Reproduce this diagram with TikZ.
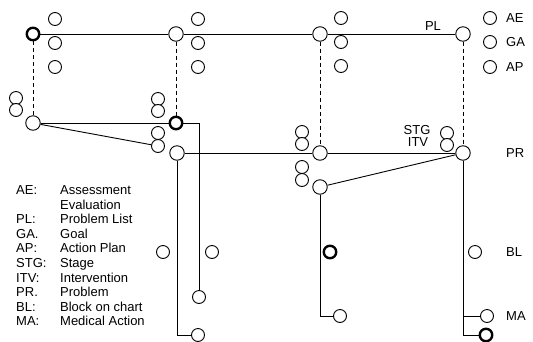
\documentclass[tikz,border=0pt]{standalone}
\usepackage{fontspec}
\setmainfont{Liberation Sans}
\usepackage{tikz}

\begin{document}
\begin{tikzpicture}[x=1pt, y=-1pt, font=\fontsize{13}{14.6}\selectfont,
  linkn/.style={circle, draw, fill=white, minimum size=14.5pt, inner sep=0pt, line width=0.9pt},
  heavyn/.style={linkn, line width=2.4pt, minimum size=12.5pt},
  itemn/.style={circle, draw, fill=white, minimum size=13pt, inner sep=0pt, line width=0.9pt},
  link/.style={draw, line width=0.9pt},
  vlink/.style={draw, line width=0.9pt, dash pattern=on 4pt off 3pt},
  lbl/.style={anchor=west, inner sep=0pt}
]
  \useasboundingbox (0,0) rectangle (533,341);
  % ===== PL row =====
  \node[heavyn] (pl1) at (33,34)  {};
  \node[linkn]  (pl2) at (176,34) {};
  \node[linkn]  (pl3) at (320,34) {};
  \node[linkn]  (pl4) at (463,34) {};
  \node[itemn] (ae1) at (55,19)  {};
  \node[itemn] (ga1) at (55,43)  {};
  \node[itemn] (ap1) at (55,67)  {};
  \node[itemn] (ae2) at (198,19) {};
  \node[itemn] (ga2) at (198,43) {};
  \node[itemn] (ap2) at (198,67) {};
  \node[itemn] (ae3) at (341,18) {};
  \node[itemn] (ga3) at (341,42) {};
  \node[itemn] (ap3) at (341,66) {};
  \node (plT) at (433,26) {PL};
  % ===== PR row =====
  \node[linkn]  (pr1) at (33,123)  {};
  \node[itemn]  (stg1) at (16,98)  {};
  \node[itemn]  (itv1) at (16,110) {};
  \node[heavyn] (pr2) at (176,123) {};
  \node[itemn]  (stg2) at (158,99)  {};
  \node[itemn]  (itv2) at (158,111) {};
  \node[itemn]  (stg3) at (158,133) {};
  \node[itemn]  (itv3) at (158,146) {};
  \node[linkn]  (pr3) at (177,153) {};
  \node[linkn]  (pr4) at (320,153) {};
  \node[itemn]  (stg4) at (302,132) {};
  \node[itemn]  (itv4) at (302,144) {};
  \node[itemn]  (stg5) at (302,167) {};
  \node[itemn]  (itv5) at (302,180) {};
  \node[linkn]  (pr5) at (320,187) {};
  \node[linkn]  (pr6) at (463,153) {};
  \node[itemn]  (stg6) at (447,133) {};
  \node[itemn]  (itv6) at (447,145) {};
  \node (stgT) at (417,130) {STG};
  \node (itvT) at (418,142) {ITV};
  % ===== blocks and medical actions =====
  \node[itemn]  (ap4)  at (163,252) {};
  \node[itemn]  (ap5)  at (212,252) {};
  \node[itemn]  (bl1)  at (199,297) {};
  \node[itemn]  (ma1)  at (198,335) {};
  \node[heavyn] (bl2)  at (330,252) {};
  \node[itemn]  (ma2)  at (340,316) {};
  \node[itemn]  (ma3)  at (487,316) {};
  \node[heavyn] (ma4)  at (486,335) {};
  % ===== connectors =====
  \draw[link] (pl1) -- (pl2) -- (pl3) -- (pl4);
  \draw[vlink] (pl1) -- (pr1);
  \draw[vlink] (pl2) -- (pr2);
  \draw[vlink] (pl3) -- (pr4);
  \draw[vlink] (pl4) -- (pr6);
  \draw[link] (pr1) -- (pr2);
  \draw[link] (pr1) -- (itv3);
  \draw[link] (pr2) -| (bl1);
  \draw[link] (pr3) |- (ma1);
  \draw[link] (pr3) -- (pr4) -- (pr6);
  \draw[link] (pr5) -- (pr6);
  \draw[link] (pr5) |- (ma2);
  \draw[link] (pr6) |- (ma3);
  \draw[link] (pr6) |- (ma4);
  % ===== keys on the right =====
  \node[itemn] (aeK) at (490,18) {};
  \node[itemn] (gaK) at (490,42) {};
  \node[itemn] (apK) at (490,67) {};
  \node[itemn] (blK) at (475,252) {};
  \node[lbl] (aeL) at (506,18)  {AE};
  \node[lbl] (gaL) at (506,42)  {GA};
  \node[lbl] (apL) at (506,67)  {AP};
  \node[lbl] (prL) at (506,153) {PR};
  \node[lbl] (blL) at (506,252) {BL};
  \node[lbl] (maL) at (506,316) {MA};
  % ===== legend =====
  \node[anchor=north west, inner sep=0pt] (key) at (16,184) {%
    \begin{tabular}{@{}p{44pt}@{}l@{}}
      AE:  & Assessment \\
           & Evaluation \\
      PL:  & Problem List \\
      GA.  & Goal \\
      AP:  & Action Plan \\
      STG: & Stage \\
      ITV: & Intervention \\
      PR.  & Problem \\
      BL:  & Block on chart \\
      MA:  & Medical Action
    \end{tabular}};
\end{tikzpicture}
\end{document}
